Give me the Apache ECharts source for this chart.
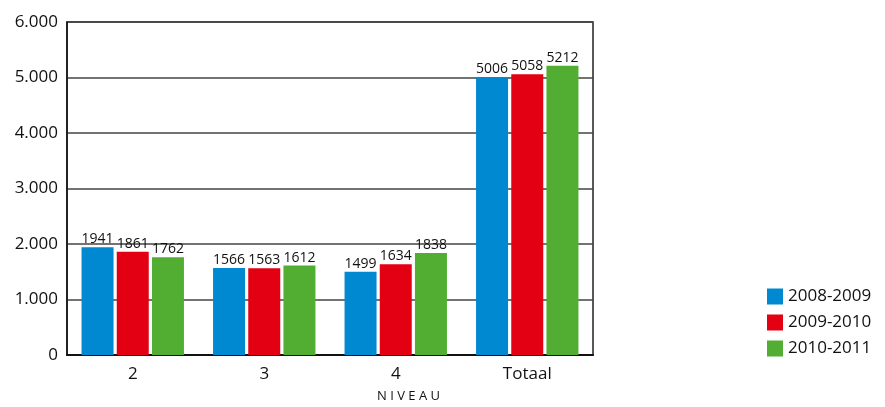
<!DOCTYPE html>
<html><head><meta charset="utf-8">
<script src="https://cdn.jsdelivr.net/npm/echarts@6/dist/echarts.min.js"></script>
<style>html,body{margin:0;padding:0;background:#fff}#c{width:885px;height:407px}</style>
</head><body><div id="c"></div>
<script>
const categories = ['2', '3', '4', 'Totaal'];
const seriesNames = ['2008-2009', '2009-2010', '2010-2011'];
const s2008 = [1941, 1566, 1499, 5006];
const s2009 = [1861, 1563, 1634, 5058];
const s2010 = [1762, 1612, 1838, 5212];
const yTicks = [0, 1000, 2000, 3000, 4000, 5000, 6000];
const colors = ['#0088d1', '#e30013', '#52ae32'];
const FONT = '"Open Sans", "Noto Sans", sans-serif';

const chart = echarts.init(document.getElementById('c'), null, {renderer: 'canvas'});
const data = [s2008, s2009, s2010];
chart.setOption({
  animation: false,
  textStyle: {fontFamily: FONT},
  grid: {left: 67, right: 292, top: 22, bottom: 52, show: true, borderColor: '#222', borderWidth: 1.5, containLabel: false},
  legend: {
    orient: 'vertical', left: 762, top: 283, itemWidth: 16, itemHeight: 16, itemGap: 9,
    icon: 'rect',
    textStyle: {fontSize: 17, color: '#111', fontFamily: FONT},
    data: seriesNames
  },
  xAxis: {
    type: 'category', data: categories,
    axisLine: {lineStyle: {color: '#111', width: 2}},
    axisTick: {show: false},
    axisLabel: {fontSize: 17, color: '#111', margin: 11, fontFamily: FONT}
  },
  yAxis: {
    type: 'value', min: 0, max: 6000, interval: 1000,
    axisLine: {show: true, lineStyle: {color: '#111', width: 1.5}},
    axisTick: {show: false},
    splitLine: {lineStyle: {color: '#444', width: 1.5}},
    axisLabel: {fontSize: 17, color: '#111', margin: 9, fontFamily: FONT,
      formatter: v => yTicks.includes(v) ? (v === 0 ? '0' : (v/1000) + '.000') : ''}
  },
  graphic: [{type: 'text', left: 377, top: 390,
    style: {text: 'N I V E A U', fontSize: 13, fill: '#111', fontFamily: FONT}}],
  series: seriesNames.map((n, i) => ({
    name: n, type: 'bar', data: data[i], barWidth: 32, barGap: '10%',
    itemStyle: {color: colors[i]},
    label: {show: true, position: 'top', distance: 1, fontSize: 14, color: '#111', fontFamily: FONT}
  }))
});
</script></body></html>
